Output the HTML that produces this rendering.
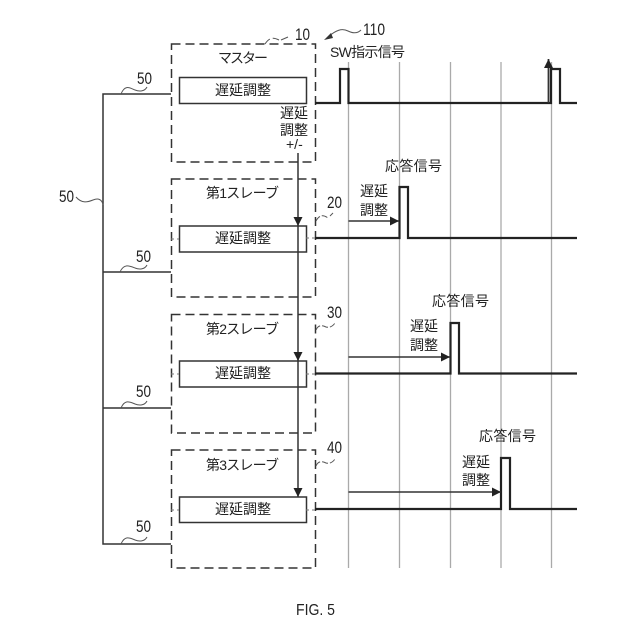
<!DOCTYPE html>
<html><head><meta charset="utf-8"><style>
html,body{margin:0;padding:0;background:#fff}
svg{display:block}
text{font-family:"Liberation Sans","Noto Sans CJK JP",sans-serif;fill:#222;font-size:14px}
.n{font-size:17px}
</style></head><body>
<svg width="640" height="640" viewBox="0 0 640 640" xmlns="http://www.w3.org/2000/svg">
<defs><marker id="a" markerWidth="10" markerHeight="10" refX="9" refY="4.5" orient="auto" markerUnits="userSpaceOnUse"><path d="M0 0L9 4.5L0 9Z" fill="#222"/></marker></defs>
<g stroke="#aaa" stroke-width="1.3" fill="none">
<path d="M348.5 62V568M399.5 62V568M450.5 62V568M501 62V568M551.5 62V568"/>
</g>
<g fill="none" stroke="#333" stroke-width="1.5" stroke-dasharray="9 5">
<rect x="171.5" y="44" width="144" height="118"/>
<rect x="171.5" y="179" width="144" height="118"/>
<rect x="171.5" y="314.5" width="144" height="118.5"/>
<rect x="171.5" y="450" width="144" height="118"/>
</g>
<g fill="#fff" stroke="#333" stroke-width="1.5">
<rect x="179.5" y="77.5" width="127" height="26"/>
<rect x="179.5" y="226" width="127" height="26"/>
<rect x="179.5" y="361" width="127" height="26"/>
<rect x="179.5" y="497" width="127" height="25.5"/>
</g>
<g fill="none" stroke="#333" stroke-width="1.5">
<path d="M171 94H103V544H171M103 272H171M103 408H171"/>
</g>
<g fill="none" stroke="#777" stroke-width="1" stroke-dasharray="3 3">
<path d="M171 239H179M306 238H315M171 374H179M306 374H315M171 510H179M306 510H315"/>
</g>
<g fill="none" stroke="#222" stroke-width="2.2">
<path d="M315 103H340V69H348.5V103H551V69H560V103H577"/>
<path d="M315 238H399.5V187H408V238H577"/>
<path d="M315 373.5H450.5V323H459V373.5H577"/>
<path d="M315 509H501V458H510V509H577"/>
</g>
<g fill="none" stroke="#333" stroke-width="1.5">
<path d="M298 153V226" marker-end="url(#a)"/>
<path d="M298 226V361" marker-end="url(#a)"/>
<path d="M298 361V497" marker-end="url(#a)"/>
<path d="M348.5 221H399" marker-end="url(#a)"/>
<path d="M348.5 357H450" marker-end="url(#a)"/>
<path d="M348.5 492H501" marker-end="url(#a)"/>
<path d="M548.5 103V59" marker-end="url(#a)" stroke-width="1.8"/>
</g>
<g fill="none" stroke="#555" stroke-width="1">
<path d="M121 94C125 84 130 88 135 90C140 92 145 91 147 87"/>
<path d="M120 272C124 263 130 266 135 268C140 270 145 269 147 265"/>
<path d="M121 408C125 399 130 402 135 404C140 406 145 405 147 401"/>
<path d="M121 544C125 535 130 538 135 540C140 542 145 541 147 537"/>
<path d="M76 197C82 204 88 202 93 200C98 198 102 199 103 205"/>
<path d="M265 44C270 36 275 38 279 40" stroke-dasharray="7 3"/><path d="M281 40L288 37"/>
<path d="M316 221C320 214 324 215 328 218" stroke-dasharray="6 2"/><path d="M330 216L333 213"/>
<path d="M316 330C318 325 322 325 326 327C330 328 333 326 335 323" stroke-dasharray="6 2"/>
<path d="M316 466C318 461 322 461 326 463C330 464 333 462 335 459" stroke-dasharray="6 2"/>
<path d="M328 37C336 30 342 28 348 31C354 34 358 33 361 30"/>
</g>
<path d="M324 40L331 33L333 38Z" fill="#333"/>
<text class="n" x="295" y="40" textLength="15" lengthAdjust="spacingAndGlyphs">10</text>
<text class="n" x="363" y="35" textLength="22" lengthAdjust="spacingAndGlyphs">110</text>
<text class="n" x="137" y="84" textLength="15" lengthAdjust="spacingAndGlyphs">50</text>
<text class="n" x="136" y="262" textLength="15" lengthAdjust="spacingAndGlyphs">50</text>
<text class="n" x="136" y="397" textLength="15" lengthAdjust="spacingAndGlyphs">50</text>
<text class="n" x="136" y="532" textLength="15" lengthAdjust="spacingAndGlyphs">50</text>
<text class="n" x="59" y="202" textLength="15" lengthAdjust="spacingAndGlyphs">50</text>
<text class="n" x="327" y="208" textLength="15" lengthAdjust="spacingAndGlyphs">20</text>
<text class="n" x="327" y="318" textLength="15" lengthAdjust="spacingAndGlyphs">30</text>
<text class="n" x="327" y="453" textLength="15" lengthAdjust="spacingAndGlyphs">40</text>
<text x="330" y="57" textLength="75">SW指示信号</text>
<text x="218" y="63" textLength="50">マスター</text>
<text x="206" y="198" textLength="73">第1スレーブ</text>
<text x="206" y="334" textLength="73">第2スレーブ</text>
<text x="206" y="470" textLength="73">第3スレーブ</text>
<text x="215" y="95">遅延調整</text>
<text x="215" y="243">遅延調整</text>
<text x="215" y="378">遅延調整</text>
<text x="215" y="514">遅延調整</text>
<text x="280" y="118">遅延</text>
<text x="280" y="135">調整</text>
<text x="286" y="149">+/-</text>
<text x="360" y="196">遅延</text>
<text x="360" y="215">調整</text>
<text x="410" y="331">遅延</text>
<text x="410" y="350">調整</text>
<text x="462" y="467">遅延</text>
<text x="462" y="485">調整</text>
<text x="385" y="171" textLength="57">応答信号</text>
<text x="432" y="306" textLength="57">応答信号</text>
<text x="479" y="441" textLength="57">応答信号</text>
<text x="296" y="615" style="font-size:15.5px" textLength="39" lengthAdjust="spacingAndGlyphs">FIG. 5</text>
</svg>
</body></html>
